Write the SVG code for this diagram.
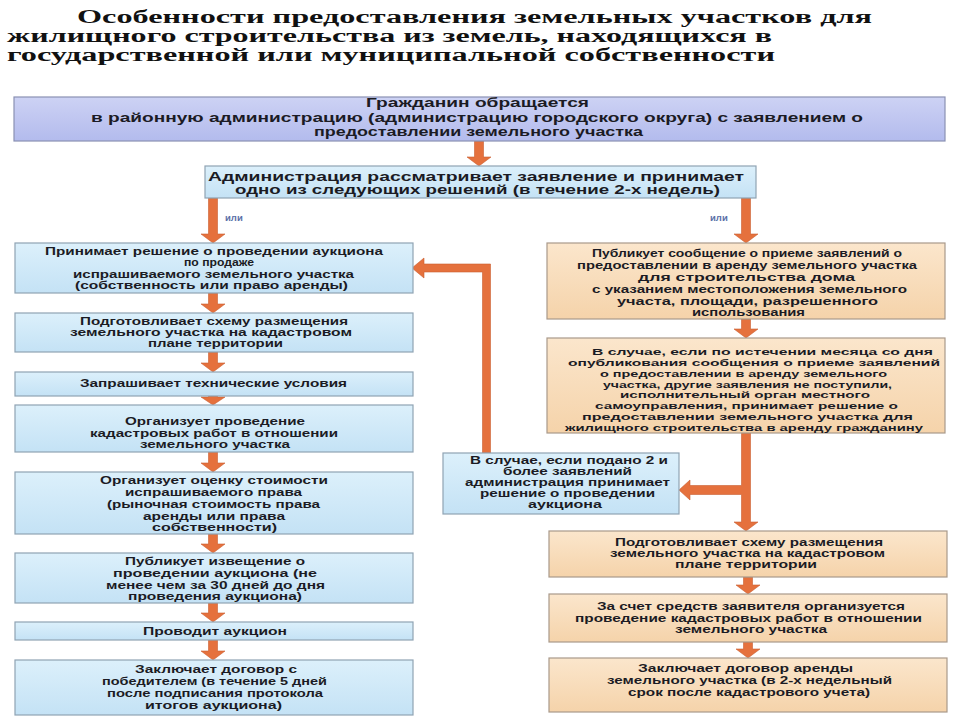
<svg xmlns="http://www.w3.org/2000/svg" width="960" height="720" viewBox="0 0 960 720">
<defs>
<linearGradient id="gTop" x1="0" y1="0" x2="0" y2="1"><stop offset="0" stop-color="#cdd2f4"/><stop offset="1" stop-color="#b3bbed"/></linearGradient>
<linearGradient id="gBlue" x1="0" y1="0" x2="0" y2="1"><stop offset="0" stop-color="#dcf0fb"/><stop offset="1" stop-color="#c4e2f5"/></linearGradient>
<linearGradient id="gPeach" x1="0" y1="0" x2="0" y2="1"><stop offset="0" stop-color="#fbe6cc"/><stop offset="1" stop-color="#f5d3aa"/></linearGradient>
</defs>
<style>
.title{font-family:"Liberation Serif","DejaVu Serif","Times New Roman",serif;font-weight:bold;font-size:18.5px;fill:#111}
.t{font-family:"Liberation Sans",Arial,sans-serif;font-weight:bold;font-size:10.5px;fill:#1b1b24}
.ts{font-family:"Liberation Sans",Arial,sans-serif;font-weight:bold;font-size:9.8px;fill:#1b1b24}
.tb{font-family:"Liberation Sans",Arial,sans-serif;font-weight:bold;font-size:12px;fill:#1b1b24}
.ili{font-family:"Liberation Sans",Arial,sans-serif;font-weight:bold;font-size:9.5px;fill:#5b6fa8}
.bTop{fill:url(#gTop);stroke:#8a91b3;stroke-width:1.2}
.bBlue{fill:url(#gBlue);stroke:#8fa3b3;stroke-width:1.2}
.bPeach{fill:url(#gPeach);stroke:#a9998a;stroke-width:1.2}
.arr{fill:#e5713d;stroke:#c95e30;stroke-width:0.6}
</style>
<rect width="960" height="720" fill="#ffffff"/>

<g id="title">
<text class="title" x="77" y="23" textLength="795" lengthAdjust="spacingAndGlyphs">Особенности предоставления земельных участков для</text>
<text class="title" x="7" y="42" textLength="765" lengthAdjust="spacingAndGlyphs">жилищного строительства из земель, находящихся в</text>
<text class="title" x="7" y="61" textLength="768" lengthAdjust="spacingAndGlyphs">государственной или муниципальной собственности</text>
</g>

<g id="connectors">
<path class="arr" d="M474.5 141 H483.5 V157 H491 L479 166 L467 157 H474.5 Z"/>
<path class="arr" d="M208.5 198 H217.5 V234 H225 L213 243 L201 234 H208.5 Z"/>
<path class="arr" d="M741.5 198 H750.5 V234 H758 L746 243 L734 234 H741.5 Z"/>
<path class="arr" d="M208.5 293 H217.5 V304 H225 L213 313 L201 304 H208.5 Z"/>
<path class="arr" d="M208.5 352 H217.5 V363 H225 L213 372 L201 363 H208.5 Z"/>
<path class="arr" d="M208.5 396 H217.5 V397 H225 L213 405 L201 397 H208.5 Z"/>
<path class="arr" d="M208.5 452 H217.5 V463 H225 L213 472 L201 463 H208.5 Z"/>
<path class="arr" d="M208.5 534 H217.5 V544 H225 L213 553 L201 544 H208.5 Z"/>
<path class="arr" d="M208.5 603 H217.5 V613 H225 L213 622 L201 613 H208.5 Z"/>
<path class="arr" d="M208.5 640 H217.5 V651 H225 L213 660 L201 651 H208.5 Z"/>
<path class="arr" d="M741.5 319 H750.5 V329 H758 L746 338 L734 329 H741.5 Z"/>
<path class="arr" d="M741.5 433 H750.5 V522 H758 L746 531 L734 522 H741.5 V494.5 H690 V500 L679 490 L690 480 V485.5 H741.5 Z"/>
<path class="arr" d="M743.5 577 H752.5 V585 H760 L748 594 L736 585 H743.5 Z"/>
<path class="arr" d="M743.5 642 H752.5 V649 H760 L748 658 L736 649 H743.5 Z"/>
<path class="arr" d="M482.5 453 V272 H424 V278 L412 268 L424 258 V264 H490.5 V453 Z"/>
<text class="ili" x="225" y="221">или</text>
<text class="ili" x="710" y="221">или</text>
</g>

<g id="n-top">
<rect class="bTop" x="14" y="97" width="931" height="44"/>
<text class="tb" x="366" y="107" textLength="223" lengthAdjust="spacingAndGlyphs">Гражданин обращается</text>
<text class="tb" x="91" y="122" textLength="772" lengthAdjust="spacingAndGlyphs">в районную администрацию (администрацию городского округа) с заявлением о</text>
<text class="tb" x="314" y="136" textLength="329" lengthAdjust="spacingAndGlyphs">предоставлении земельного участка</text>
</g>

<g id="n-admin">
<rect class="bBlue" x="205" y="166" width="551" height="32"/>
<text class="tb" x="208" y="181" textLength="536" lengthAdjust="spacingAndGlyphs">Администрация рассматривает заявление и принимает</text>
<text class="tb" x="235" y="194" textLength="485" lengthAdjust="spacingAndGlyphs">одно из следующих решений (в течение 2-х недель)</text>
</g>

<g id="n-l1">
<rect class="bBlue" x="15" y="243" width="398" height="50"/>
<text class="t" x="45" y="255" textLength="338" lengthAdjust="spacingAndGlyphs">Принимает решение о проведении аукциона</text>
<text class="t" x="184" y="266" textLength="70" lengthAdjust="spacingAndGlyphs">по продаже</text>
<text class="t" x="73" y="278" textLength="281" lengthAdjust="spacingAndGlyphs">испрашиваемого земельного участка</text>
<text class="t" x="75" y="289" textLength="273" lengthAdjust="spacingAndGlyphs">(собственность или право аренды)</text>
</g>

<g id="n-l2">
<rect class="bBlue" x="15" y="313" width="398" height="39"/>
<text class="t" x="80" y="325" textLength="268" lengthAdjust="spacingAndGlyphs">Подготовливает схему размещения</text>
<text class="t" x="70" y="336" textLength="282" lengthAdjust="spacingAndGlyphs">земельного участка на кадастровом</text>
<text class="t" x="148" y="347" textLength="135" lengthAdjust="spacingAndGlyphs">плане территории</text>
</g>

<g id="n-l3">
<rect class="bBlue" x="15" y="372" width="398" height="24"/>
<text class="t" x="80" y="387" textLength="267" lengthAdjust="spacingAndGlyphs">Запрашивает технические условия</text>
</g>

<g id="n-l4">
<rect class="bBlue" x="15" y="405" width="398" height="47"/>
<text class="t" x="125" y="425" textLength="180" lengthAdjust="spacingAndGlyphs">Организует проведение</text>
<text class="t" x="90" y="437" textLength="248" lengthAdjust="spacingAndGlyphs">кадастровых работ в отношении</text>
<text class="t" x="140" y="448" textLength="150" lengthAdjust="spacingAndGlyphs">земельного участка</text>
</g>

<g id="n-l5">
<rect class="bBlue" x="15" y="472" width="398" height="62"/>
<text class="t" x="100" y="484" textLength="228" lengthAdjust="spacingAndGlyphs">Организует оценку стоимости</text>
<text class="t" x="125" y="496" textLength="177" lengthAdjust="spacingAndGlyphs">испрашиваемого права</text>
<text class="t" x="107" y="508" textLength="213" lengthAdjust="spacingAndGlyphs">(рыночная стоимость права</text>
<text class="t" x="143" y="520" textLength="142" lengthAdjust="spacingAndGlyphs">аренды или права</text>
<text class="t" x="152" y="531" textLength="125" lengthAdjust="spacingAndGlyphs">собственности)</text>
</g>

<g id="n-l6">
<rect class="bBlue" x="15" y="553" width="398" height="50"/>
<text class="t" x="125" y="565" textLength="180" lengthAdjust="spacingAndGlyphs">Публикует извещение о</text>
<text class="t" x="113" y="577" textLength="204" lengthAdjust="spacingAndGlyphs">проведении аукциона (не</text>
<text class="t" x="106" y="589" textLength="219" lengthAdjust="spacingAndGlyphs">менее чем за 30 дней до дня</text>
<text class="t" x="128" y="600" textLength="174" lengthAdjust="spacingAndGlyphs">проведения аукциона)</text>
</g>

<g id="n-l7">
<rect class="bBlue" x="15" y="622" width="398" height="18"/>
<text class="t" x="143" y="635" textLength="144" lengthAdjust="spacingAndGlyphs">Проводит аукцион</text>
</g>

<g id="n-l8">
<rect class="bBlue" x="15" y="660" width="398" height="55"/>
<text class="t" x="135" y="673" textLength="162" lengthAdjust="spacingAndGlyphs">Заключает договор с</text>
<text class="t" x="102" y="685" textLength="225" lengthAdjust="spacingAndGlyphs">победителем (в течение 5 дней</text>
<text class="t" x="107" y="697" textLength="216" lengthAdjust="spacingAndGlyphs">после подписания протокола</text>
<text class="t" x="145" y="709" textLength="137" lengthAdjust="spacingAndGlyphs">итогов аукциона)</text>
</g>

<g id="n-r1">
<rect class="bPeach" x="547" y="243" width="398" height="76"/>
<text class="t" x="592" y="257" textLength="310" lengthAdjust="spacingAndGlyphs">Публикует сообщение о приеме заявлений о</text>
<text class="t" x="577" y="269" textLength="340" lengthAdjust="spacingAndGlyphs">предоставлении в аренду земельного участка</text>
<text class="t" x="638" y="281" textLength="217" lengthAdjust="spacingAndGlyphs">для строительства дома</text>
<text class="t" x="592" y="293" textLength="315" lengthAdjust="spacingAndGlyphs">с указанием местоположения земельного</text>
<text class="t" x="617" y="305" textLength="261" lengthAdjust="spacingAndGlyphs">участа, площади, разрешенного</text>
<text class="t" x="692" y="316" textLength="113" lengthAdjust="spacingAndGlyphs">использования</text>
</g>

<g id="n-r2">
<rect class="bPeach" x="547" y="338" width="398" height="95"/>
<text class="ts" x="592" y="355" textLength="341" lengthAdjust="spacingAndGlyphs">В случае, если по истечении месяца со дня</text>
<text class="ts" x="568" y="366" textLength="372" lengthAdjust="spacingAndGlyphs">опубликования сообщения о приеме заявлений</text>
<text class="ts" x="600" y="377" textLength="287" lengthAdjust="spacingAndGlyphs">о предоставлении в аренду земельного</text>
<text class="ts" x="603" y="387.5" textLength="289" lengthAdjust="spacingAndGlyphs">участка, другие заявления не поступили,</text>
<text class="ts" x="620" y="398" textLength="250" lengthAdjust="spacingAndGlyphs">исполнительный орган местного</text>
<text class="ts" x="595" y="409" textLength="303" lengthAdjust="spacingAndGlyphs">самоуправления, принимает решение о</text>
<text class="ts" x="582" y="420" textLength="331" lengthAdjust="spacingAndGlyphs">предоставлении земельного участка для</text>
<text class="ts" x="565" y="430.5" textLength="358" lengthAdjust="spacingAndGlyphs">жилищного строительства в аренду гражданину</text>
</g>

<g id="n-mid">
<rect class="bBlue" x="443" y="453" width="236" height="61"/>
<text class="t" x="470" y="464" textLength="198" lengthAdjust="spacingAndGlyphs">В случае, если подано 2 и</text>
<text class="t" x="503" y="475" textLength="129" lengthAdjust="spacingAndGlyphs">более заявлений</text>
<text class="t" x="465" y="486" textLength="205" lengthAdjust="spacingAndGlyphs">администрация принимает</text>
<text class="t" x="480" y="497" textLength="175" lengthAdjust="spacingAndGlyphs">решение о проведении</text>
<text class="t" x="528" y="508" textLength="74" lengthAdjust="spacingAndGlyphs">аукциона</text>
</g>

<g id="n-r3">
<rect class="bPeach" x="549" y="531" width="398" height="46"/>
<text class="t" x="615" y="546" textLength="268" lengthAdjust="spacingAndGlyphs">Подготовливает схему размещения</text>
<text class="t" x="610" y="557" textLength="275" lengthAdjust="spacingAndGlyphs">земельного участка на кадастровом</text>
<text class="t" x="675" y="568" textLength="142" lengthAdjust="spacingAndGlyphs">плане территории</text>
</g>

<g id="n-r4">
<rect class="bPeach" x="549" y="594" width="398" height="48"/>
<text class="t" x="597" y="610" textLength="308" lengthAdjust="spacingAndGlyphs">За счет средств заявителя организуется</text>
<text class="t" x="575" y="622" textLength="347" lengthAdjust="spacingAndGlyphs">проведение кадастровых работ в отношении</text>
<text class="t" x="675" y="633" textLength="152" lengthAdjust="spacingAndGlyphs">земельного участка</text>
</g>

<g id="n-r5">
<rect class="bPeach" x="549" y="658" width="398" height="54"/>
<text class="t" x="638" y="672" textLength="215" lengthAdjust="spacingAndGlyphs">Заключает договор аренды</text>
<text class="t" x="607" y="684" textLength="285" lengthAdjust="spacingAndGlyphs">земельного участка (в 2-х недельный</text>
<text class="t" x="628" y="696" textLength="242" lengthAdjust="spacingAndGlyphs">срок после кадастрового учета)</text>
</g>
</svg>
